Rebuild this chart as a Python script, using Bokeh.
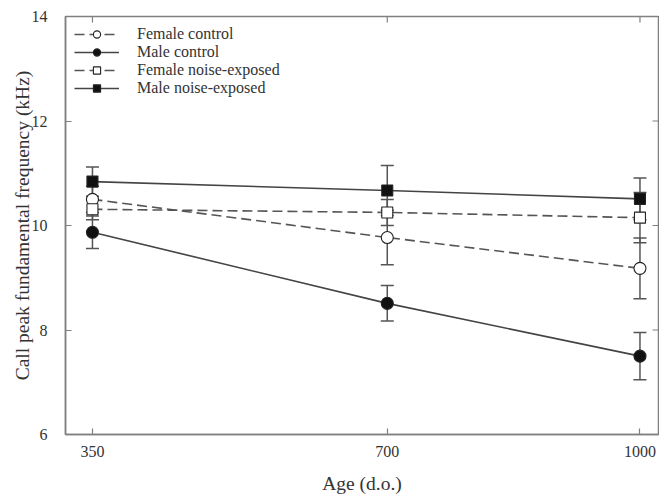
import math
from bokeh.plotting import figure
from bokeh.models import (ColumnDataSource, Whisker, TeeHead, Legend, LegendItem,
                          FixedTicker, Range1d)
from bokeh.embed import file_html
from bokeh.resources import INLINE

# ---- data ----
ages = [350, 700, 1000]
female_control = [10.50, 9.77, 9.18]
female_control_err = [0.25, 0.52, 0.58]
male_control = [9.87, 8.51, 7.50]
male_control_err = [0.31, 0.34, 0.45]
female_noise = [10.31, 10.25, 10.15]
female_noise_err = [0.20, 0.25, 0.48]
male_noise = [10.84, 10.67, 10.51]
male_noise_err = [0.28, 0.48, 0.40]
x_ticks = [350, 700, 1000]
y_ticks = [6, 8, 10, 12, 14]

FONT = "Liberation Serif"
TXT = "#333333"
AX = "#808080"

p = figure(frame_width=593, frame_height=418, output_backend="svg",
           toolbar_location=None, x_range=Range1d(318, 1022), y_range=Range1d(6, 14),
           min_border_left=65, min_border_top=16, min_border_bottom=66, min_border_right=1)
p.grid.visible = False
p.outline_line_color = AX
p.outline_line_width = 1.5
p.background_fill_color = "white"
p.border_fill_color = "white"

for ax in (p.xaxis[0], p.yaxis[0]):
    ax.axis_line_color = AX
    ax.axis_line_width = 1.5
    ax.major_tick_line_color = AX
    ax.major_tick_line_width = 1.2
    ax.major_tick_in = 6
    ax.major_tick_out = 0
    ax.minor_tick_line_color = None
    ax.major_label_text_font = FONT
    ax.major_label_text_font_size = "16px"
    ax.major_label_text_color = TXT
    ax.axis_label_text_font = FONT
    ax.axis_label_text_font_size = "19.5px"
    ax.axis_label_text_font_style = "normal"
    ax.axis_label_text_color = TXT

p.xaxis[0].ticker = FixedTicker(ticks=x_ticks)
p.yaxis[0].ticker = FixedTicker(ticks=y_ticks)
p.xaxis[0].axis_label = "Age (d.o.)"
p.yaxis[0].axis_label = "Call peak fundamental frequency (kHz)"
p.xaxis[0].major_label_standoff = 11
p.xaxis[0].axis_label_standoff = 13
p.yaxis[0].major_label_standoff = 18
p.yaxis[0].axis_label_standoff = -4

# mirrored inward ticks on top and right edges
p.ray(x=x_ticks, y=[p.y_range.end] * len(x_ticks), length=6, length_units="screen",
      angle=-math.pi / 2, line_color=AX, line_width=1.2)
p.ray(x=[p.x_range.end] * len(y_ticks), y=y_ticks, length=6, length_units="screen",
      angle=math.pi, line_color=AX, line_width=1.2)

series = [
    ("Female control", female_control, female_control_err, "circle", "white", "10 5", "#555555"),
    ("Male control", male_control, male_control_err, "circle", "#111111", "solid", "#444444"),
    ("Female noise-exposed", female_noise, female_noise_err, "square", "white", "10 5", "#555555"),
    ("Male noise-exposed", male_noise, male_noise_err, "square", "#111111", "solid", "#444444"),
]

# error bars first
for name, ys, es, mk, fill, dash, lc in series:
    src = ColumnDataSource(dict(x=ages, upper=[y + e for y, e in zip(ys, es)],
                                lower=[y - e for y, e in zip(ys, es)]))
    w = Whisker(source=src, base="x", upper="upper", lower="lower",
                line_color="#555555", line_width=1.5,
                upper_head=TeeHead(size=13, line_color="#555555", line_width=1.5),
                lower_head=TeeHead(size=13, line_color="#555555", line_width=1.5))
    p.add_layout(w)

items = []
line_rs = []
for name, ys, es, mk, fill, dash, lc in series:
    lr = p.line(ages, ys, line_color=lc, line_width=1.6, line_dash=dash)
    line_rs.append(lr)

for (name, ys, es, mk, fill, dash, lc), lr in zip(series, line_rs):
    size = 12 if mk == "circle" else 11
    sr = p.scatter(ages, ys, marker=mk, size=size, fill_color=fill,
                   line_color="#222222", line_width=1.1)
    items.append(LegendItem(label=name, renderers=[lr, sr]))

legend = Legend(items=items, location="top_left", margin=0, padding=9,
                border_line_color="white", border_line_alpha=0, background_fill_alpha=0,
                label_text_font=FONT, label_text_font_size="16px",
                label_text_color=TXT, glyph_width=45, glyph_height=18,
                label_height=18, label_standoff=18, spacing=0)
p.add_layout(legend)

open("out.html", "w").write(file_html(p, INLINE))
